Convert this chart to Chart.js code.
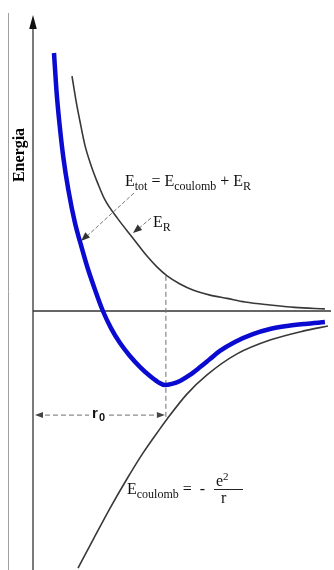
<!DOCTYPE html>
<html lang="it">
<head>
<meta charset="utf-8">
<title>Energia</title>
<script src="https://cdn.jsdelivr.net/npm/chart.js@4"></script>
<style>
    html, body { margin: 0; padding: 0; background: #fff; }
    #wrap { width: 334px; height: 570px; position: relative; }
</style>
</head>
<body>
<div id="wrap"><canvas id="energyChart"></canvas></div>
<script>
"use strict";

// Etot = Ecoulomb + ER
const rTot = [0.70, 0.78, 0.88, 1.01, 1.18, 1.40, 1.57, 1.80, 2.07, 2.33, 2.60, 2.90, 3.23, 3.57, 3.90, 4.17, 4.40, 4.63, 4.90, 5.23, 5.57, 5.90, 6.23, 6.73, 7.33, 7.90, 8.47, 9.07, 9.73];
const eTot = [8.60, 7.37, 6.27, 5.13, 4.03, 2.93, 2.30, 1.50, 0.70, 0.00, -0.57, -1.07, -1.50, -1.87, -2.17, -2.37, -2.47, -2.43, -2.33, -2.13, -1.87, -1.60, -1.33, -1.03, -0.77, -0.60, -0.50, -0.43, -0.37];

// ER, repulsion
const rRep = [1.30, 1.43, 1.57, 1.73, 1.93, 2.17, 2.40, 2.83, 3.30, 3.80, 4.13, 4.47, 4.90, 5.33, 5.90, 6.47, 7.07, 7.90, 8.73, 9.73];
const eRep = [7.83, 7.03, 6.30, 5.53, 4.87, 4.23, 3.70, 3.07, 2.47, 1.83, 1.47, 1.17, 0.90, 0.70, 0.53, 0.42, 0.30, 0.20, 0.12, 0.07];

// Ecoulomb = -e^2/r
const rCoul = [1.50, 2.00, 2.57, 3.13, 3.67, 4.23, 4.47, 5.13, 5.80, 6.80, 7.90, 9.00, 9.83];
const eCoul = [-8.57, -7.63, -6.57, -5.60, -4.73, -3.93, -3.60, -2.77, -2.13, -1.43, -0.97, -0.67, -0.50];

// Jämviktsavstånd r0 och var de streckade linjerna slutar
const r0 = 4.43;
const r0TopE = 1.17;
const r0LineE = -3.47;

function toPoints(xs, ys) {
    return xs.map((x, i) => ({ x: x, y: ys[i] }));
}

function line(ctx, x1, y1, x2, y2) {
    ctx.beginPath();
    ctx.moveTo(x1, y1);
    ctx.lineTo(x2, y2);
    ctx.stroke();
}

// Pilspets i punkten (x2, y2)
function arrowHead(ctx, x1, y1, x2, y2, len, half) {
    const a = Math.atan2(y2 - y1, x2 - x1);
    ctx.save();
    ctx.setLineDash([]);
    ctx.beginPath();
    ctx.moveTo(x2, y2);
    ctx.lineTo(x2 - len * Math.cos(a) + half * Math.sin(a), y2 - len * Math.sin(a) - half * Math.cos(a));
    ctx.lineTo(x2 - len * Math.cos(a) - half * Math.sin(a), y2 - len * Math.sin(a) + half * Math.cos(a));
    ctx.closePath();
    ctx.fill();
    ctx.restore();
}

// Text med nedsänkta/upphöjda delar
function richText(ctx, parts, x, y) {
    let cx = x;
    parts.forEach(p => {
        if (p.sub) {
            ctx.font = "12px 'Liberation Serif'";
            ctx.fillText(p.t, cx, y + 4);
        } else if (p.sup) {
            ctx.font = "11px 'Liberation Serif'";
            ctx.fillText(p.t, cx, y - 6);
        } else {
            ctx.font = "16px 'Liberation Serif'";
            ctx.fillText(p.t, cx, y);
        }
        cx += ctx.measureText(p.t).width;
    });
    return cx;
}

const sketchPlugin = {
    id: "sketch",
    beforeDatasetsDraw(chart) {
        const { ctx, chartArea, scales: { x, y } } = chart;
        const x0 = x.getPixelForValue(0);
        const y0 = y.getPixelForValue(0);
        ctx.save();

        // tunn ram till vänster
        ctx.strokeStyle = "#a0a0a0";
        ctx.lineWidth = 1;
        line(ctx, 8.5, 13, 8.5, 570);

        // axlar
        ctx.strokeStyle = "#333";
        ctx.fillStyle = "#111";
        ctx.lineWidth = 1.3;
        line(ctx, x0, chartArea.bottom, x0, 26);
        arrowHead(ctx, x0, 40, x0, 15, 14, 3.8);
        line(ctx, x0, y0, chartArea.right - 2, y0);

        // y-axelns titel
        ctx.save();
        ctx.translate(24, 155);
        ctx.rotate(-Math.PI / 2);
        ctx.font = "bold 16px 'Liberation Serif'";
        ctx.textAlign = "center";
        ctx.fillStyle = "#000";
        ctx.fillText("Energia", 0, 0);
        ctx.restore();

        // streckade linjer vid r0
        const xr = x.getPixelForValue(r0);
        const yTop = y.getPixelForValue(r0TopE);
        const yr = y.getPixelForValue(r0LineE);
        ctx.strokeStyle = "#6f6f6f";
        ctx.fillStyle = "#444";
        ctx.lineWidth = 1;
        ctx.setLineDash([5, 3]);
        line(ctx, xr, yTop, xr, yr + 2);
        line(ctx, x0 + 4, yr, 89, yr);
        line(ctx, 109, yr, xr - 4, yr);
        arrowHead(ctx, x0 + 14, yr, x0 + 2, yr, 8, 3);
        arrowHead(ctx, xr - 14, yr, xr - 1, yr, 8, 3);
        ctx.setLineDash([]);

        ctx.fillStyle = "#111";
        ctx.font = "bold 15px 'Liberation Sans'";
        ctx.fillText("r", 92, yr + 3);
        ctx.font = "bold 11px 'Liberation Sans'";
        ctx.fillText("0", 99, yr + 6);
        ctx.restore();
    },
    afterDatasetsDraw(chart) {
        const { ctx } = chart;
        ctx.save();

        // pilar till kurvorna
        ctx.strokeStyle = "#777";
        ctx.fillStyle = "#333";
        ctx.lineWidth = 1;
        ctx.setLineDash([4, 2]);
        line(ctx, 134, 193, 86, 237);
        arrowHead(ctx, 134, 193, 81, 241, 9, 3.5);
        line(ctx, 151, 218, 137, 230);
        arrowHead(ctx, 151, 218, 133, 233, 9, 3.5);
        ctx.setLineDash([]);

        // etiketter
        ctx.fillStyle = "#111";
        richText(ctx, [
            { t: "E" }, { t: "tot", sub: true }, { t: " = E" }, { t: "coulomb", sub: true },
            { t: " + E" }, { t: "R", sub: true }
        ], 125, 186);
        richText(ctx, [{ t: "E" }, { t: "R", sub: true }], 153, 227);
        richText(ctx, [{ t: "E" }, { t: "coulomb", sub: true }, { t: " =  - " }], 127, 494);

        // bråket e^2 / r
        richText(ctx, [{ t: "e" }, { t: "2", sup: true }], 216, 486);
        ctx.strokeStyle = "#222";
        ctx.lineWidth = 1;
        line(ctx, 214, 489.5, 243, 489.5);
        richText(ctx, [{ t: "r" }], 221, 503);
        ctx.restore();
    }
};

function createChart() {
    const canvas = document.getElementById("energyChart");
    new Chart(canvas, {
        type: "scatter",
        data: {
            datasets: [
                {
                    label: "Etot",
                    data: toPoints(rTot, eTot),
                    showLine: true,
                    borderColor: "#0a0ad0",
                    borderWidth: 4.5,
                    pointRadius: 0,
                    cubicInterpolationMode: "monotone"
                },
                {
                    label: "ER",
                    data: toPoints(rRep, eRep),
                    showLine: true,
                    borderColor: "#383838",
                    borderWidth: 1.6,
                    pointRadius: 0,
                    cubicInterpolationMode: "monotone"
                },
                {
                    label: "Ecoulomb",
                    data: toPoints(rCoul, eCoul),
                    showLine: true,
                    borderColor: "#383838",
                    borderWidth: 1.6,
                    pointRadius: 0,
                    cubicInterpolationMode: "monotone"
                }
            ]
        },
        options: {
            responsive: true,
            maintainAspectRatio: false,
            animation: false,
            layout: { padding: { left: 33, right: 1, top: 13, bottom: 0 } },
            plugins: {
                legend: { display: false },
                tooltip: { enabled: false }
            },
            scales: {
                x: { type: "linear", min: 0, max: 10, display: false },
                y: { type: "linear", min: -8.633, max: 9.933, display: false }
            }
        },
        plugins: [sketchPlugin]
    });
}

document.addEventListener("DOMContentLoaded", createChart);
</script>
</body>
</html>
